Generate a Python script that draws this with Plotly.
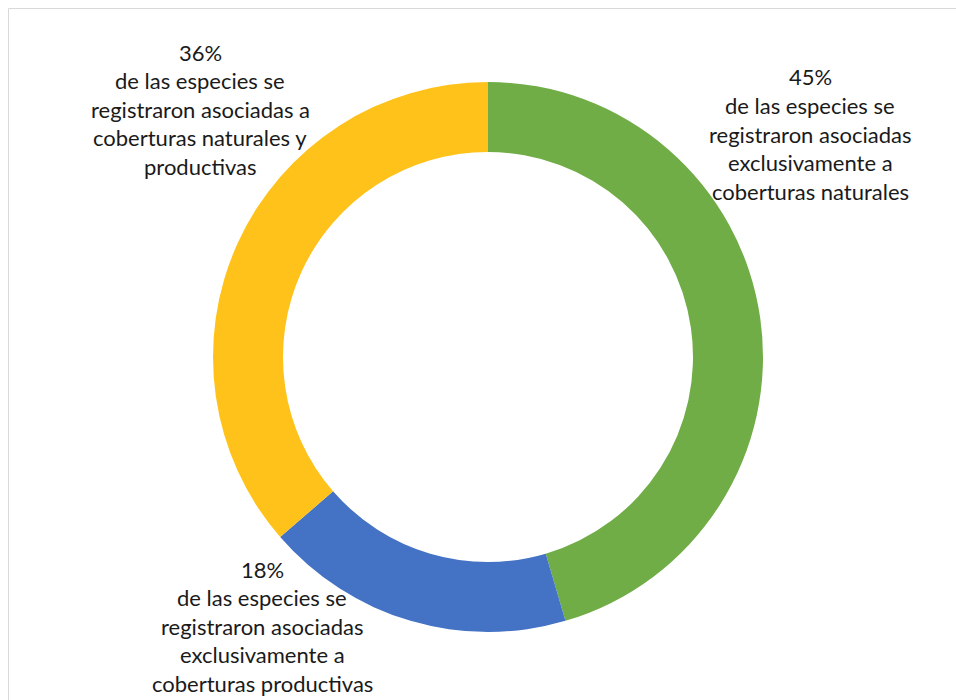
import plotly.graph_objects as go

# Share of species by land-cover association
categories = [
    "Exclusivamente coberturas naturales",
    "Exclusivamente coberturas productivas",
    "Coberturas naturales y productivas",
]
percentages = [45, 18, 36]
colors = ["#70AD47", "#4472C4", "#FFC21A"]

# Label text for each slice (one string per line)
label_lines = [
    ["45%", "de las especies se", "registraron asociadas", "exclusivamente a", "coberturas naturales"],
    ["18%", "de las especies se", "registraron asociadas", "exclusivamente a", "coberturas productivas"],
    ["36%", "de las especies se", "registraron asociadas a", "coberturas naturales y", "productivas"],
]

W, H = 956, 700
cx, cy, r_out, r_in = 488, 357, 275, 205

fig = go.Figure(
    go.Pie(
        labels=categories,
        values=percentages,
        sort=False,
        direction="clockwise",
        rotation=0,
        hole=r_in / r_out,
        textinfo="none",
        hoverinfo="label+percent",
        marker=dict(colors=colors, line=dict(width=0)),
        domain=dict(
            x=[(cx - r_out) / W, (cx + r_out) / W],
            y=[1 - (cy + r_out) / H, 1 - (cy - r_out) / H],
        ),
        showlegend=False,
    )
)

# Label blocks: centre x and first-line y (pixels), line pitch
label_pos = [(810, 77), (262, 569), (200, 52)]
pitch = 28.6

annotations = []
for lines, (lx, ly) in zip(label_lines, label_pos):
    for i, line in enumerate(lines):
        annotations.append(
            dict(
                text=line,
                x=lx / W,
                y=1 - (ly + i * pitch) / H,
                xref="paper",
                yref="paper",
                xanchor="center",
                yanchor="middle",
                showarrow=False,
                font=dict(family="Lato", size=22, color="#1a1a1a"),
            )
        )

fig.update_layout(
    width=W,
    height=H,
    margin=dict(l=0, r=0, t=0, b=0),
    paper_bgcolor="white",
    plot_bgcolor="white",
    annotations=annotations,
    shapes=[
        dict(
            type="rect",
            xref="paper",
            yref="paper",
            x0=8.5 / W,
            x1=1.02,
            y0=-0.02,
            y1=1 - 8.5 / H,
            line=dict(color="#D9D9D9", width=1),
            layer="below",
        )
    ],
)

fig.write_html("out.html")
